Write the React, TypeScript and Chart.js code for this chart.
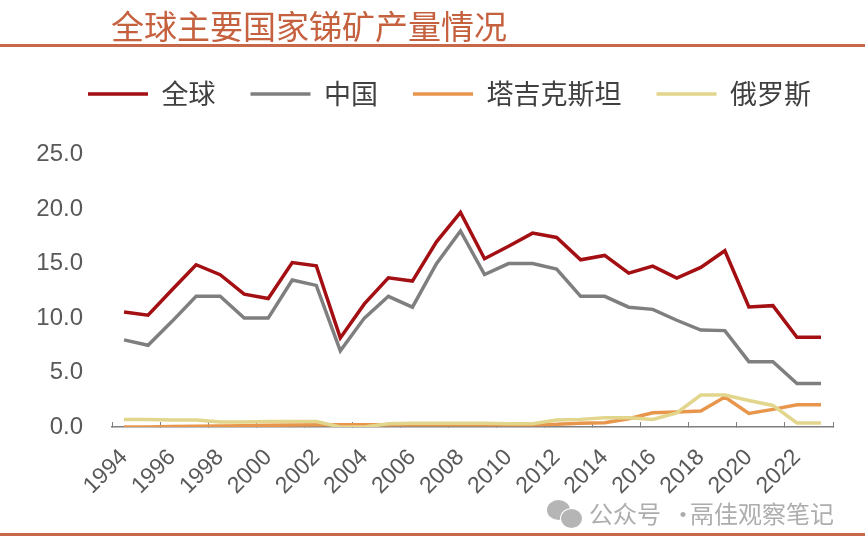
import React, { useEffect, useRef } from "react";
import { Chart, registerables } from "chart.js";

Chart.register(...registerables);

const years = [
  "1994", "1995", "1996", "1997", "1998", "1999", "2000", "2001", "2002", "2003",
  "2004", "2005", "2006", "2007", "2008", "2009", "2010", "2011", "2012", "2013",
  "2014", "2015", "2016", "2017", "2018", "2019", "2020", "2021", "2022", "2023",
];

const globalOutput = [
  10.56, 10.26, 12.6, 14.9, 13.98, 12.2, 11.8, 15.1, 14.8, 8.18,
  11.3, 13.7, 13.4, 17.0, 19.7, 15.45, 16.6, 17.8, 17.4, 15.35,
  15.75, 14.13, 14.77, 13.67, 14.65, 16.18, 11.02, 11.14, 8.24, 8.24,
];

const chinaOutput = [
  8.0, 7.5, 9.7, 12.0, 12.0, 10.0, 10.0, 13.5, 13.0, 7.0,
  10.0, 12.0, 11.0, 15.0, 18.0, 14.0, 15.0, 15.0, 14.5, 12.0,
  12.0, 11.0, 10.8, 9.8, 8.9, 8.85, 6.0, 6.0, 4.0, 4.0,
];

const tajikOutput = [
  0.0, 0.0, 0.05, 0.08, 0.1, 0.12, 0.15, 0.18, 0.2, 0.2,
  0.2, 0.2, 0.2, 0.2, 0.2, 0.2, 0.2, 0.2, 0.25, 0.35,
  0.4, 0.76, 1.3, 1.37, 1.46, 2.75, 1.25, 1.62, 2.04, 2.04,
];

const russiaOutput = [
  0.7, 0.7, 0.65, 0.65, 0.45, 0.45, 0.5, 0.5, 0.5, 0.0,
  0.0, 0.3, 0.35, 0.35, 0.35, 0.35, 0.3, 0.3, 0.65, 0.7,
  0.85, 0.85, 0.7, 1.3, 2.93, 2.93, 2.44, 1.98, 0.37, 0.37,
];

const seriesNames = ["全球", "中国", "塔吉克斯坦", "俄罗斯"];
const seriesColors = ["#A30F12", "#7F7F7F", "#E8964B", "#E2D58C"];

const titleText = "全球主要国家锑矿产量情况";
const watermarkPrefix = "公众号";
const watermarkName = "鬲佳观察笔记";

const Y_MIN = 0;
const Y_MAX = 25;
const Y_STEP = 5;

const ACCENT = "#C8684A";
const TEXT = "#595959";

export default function App() {
  const canvasRef = useRef<HTMLCanvasElement>(null);

  useEffect(() => {
    if (!canvasRef.current) return;
    const seriesData = [globalOutput, chinaOutput, tajikOutput, russiaOutput];
    const chart = new Chart(canvasRef.current, {
      type: "line",
      data: {
        labels: years,
        datasets: seriesData.map((d, i) => ({
          label: seriesNames[i],
          data: d,
          yAxisID: "y",
          borderColor: seriesColors[i],
          backgroundColor: seriesColors[i],
          borderWidth: 3.5,
          pointRadius: 0,
          pointHoverRadius: 0,
          tension: 0,
          fill: false,
          order: seriesData.length - 1 - i,
        })),
      },
      options: {
        responsive: false,
        animation: false,
        layout: { padding: { top: 45.5, left: 34, right: 0, bottom: 0 } },
        plugins: {
          tooltip: { enabled: false },
          legend: {
            display: true,
            position: "top",
            align: "center",
            labels: {
              boxWidth: 60,
              boxHeight: 3.5,
              padding: 35,
              color: "#404040",
              font: { family: "'Noto Sans CJK SC', 'Liberation Sans', sans-serif", size: 27 },
              sort: (a: any, b: any) => a.datasetIndex - b.datasetIndex,
              generateLabels: (c: any) =>
                (Chart.defaults.plugins.legend.labels.generateLabels as any)(c).map((l: any) => ({
                  ...l,
                  lineWidth: 0,
                  strokeStyle: "rgba(0,0,0,0)",
                })),
            },
          },
          title: {
            display: true,
            text: "",
            position: "top",
            weight: 500,
            font: { size: 1 },
            padding: { top: 0, bottom: 36 },
          } as any,
        },
        scales: {
          x: {
            type: "category",
            offset: true,
            grid: {
              display: true,
              offset: true,
              drawOnChartArea: false,
              drawTicks: true,
              tickLength: -5,
              lineWidth: 1,
              color: (ctx: any) =>
                ctx.index === undefined || ctx.index % 2 === 0 ? "#7F7F7F" : "rgba(0,0,0,0)",
              tickColor: (ctx: any) =>
                ctx.index === undefined || ctx.index % 2 === 0 ? "#7F7F7F" : "rgba(0,0,0,0)",
            },
            border: { display: true, color: "#7F7F7F", width: 1.5 },
            ticks: {
              autoSkip: false,
              maxRotation: 45,
              minRotation: 45,
              padding: 22,
              color: TEXT,
              font: { family: "'Liberation Sans', Arial, sans-serif", size: 23 },
              callback: (_v: any, i: number) => (i % 2 === 0 ? years[i] : ""),
            },
            afterFit: (scale: any) => {
              scale.height = 121;
            },
          },
          y: {
            position: "left",
            min: Y_MIN,
            max: Y_MAX,
            grid: { display: false, drawTicks: false },
            border: { display: false },
            ticks: {
              stepSize: Y_STEP,
              padding: 29,
              color: TEXT,
              font: { family: "'Liberation Sans', Arial, sans-serif", size: 24 },
              callback: (v: any) => Number(v).toFixed(1),
            },
            afterFit: (scale: any) => {
              scale.width = 78;
            },
          },
          yRightSpace: {
            type: "linear",
            position: "right",
            display: true,
            min: Y_MIN,
            max: Y_MAX,
            grid: { display: false, drawTicks: false },
            border: { display: false },
            ticks: { display: false },
            afterFit: (scale: any) => {
              scale.width = 32;
            },
          },
        },
      } as any,
    });
    return () => chart.destroy();
  }, []);

  return (
    <div
      style={{
        position: "fixed",
        left: 0,
        top: 0,
        width: 865,
        height: 548,
        background: "#ffffff",
        overflow: "hidden",
      }}
    >
      <canvas
        ref={canvasRef}
        width={865}
        height={548}
        style={{ position: "absolute", left: 0, top: 0, width: 865, height: 548 }}
      />
      <div
        style={{
          position: "absolute",
          left: 111,
          top: 9,
          fontFamily: "'Noto Sans CJK SC', sans-serif",
          fontSize: 33,
          lineHeight: "33px",
          color: "#C5613F",
          whiteSpace: "nowrap",
        }}
      >
        {titleText}
      </div>
      <div style={{ position: "absolute", left: 0, top: 44, width: 865, height: 3, background: ACCENT }} />
      <div style={{ position: "absolute", left: 0, top: 533, width: 865, height: 3, background: ACCENT }} />
      <div
        style={{
          position: "absolute",
          left: 547,
          top: 500,
          width: 23,
          height: 20,
          borderRadius: "50%",
          background: "#B5B5B5",
        }}
      />
      <div
        style={{
          position: "absolute",
          left: 560,
          top: 508,
          width: 21,
          height: 19,
          borderRadius: "50%",
          background: "#B5B5B5",
          border: "1.5px solid #ffffff",
        }}
      />
      <div
        style={{
          position: "absolute",
          left: 589,
          top: 500,
          fontFamily: "'Noto Sans CJK SC', sans-serif",
          fontSize: 24,
          lineHeight: "26px",
          color: "#ADADAD",
          whiteSpace: "nowrap",
        }}
      >
        {watermarkPrefix}
      </div>
      <div
        style={{
          position: "absolute",
          left: 671,
          top: 500,
          fontFamily: "'Noto Sans CJK SC', sans-serif",
          fontSize: 24,
          lineHeight: "26px",
          color: "#ADADAD",
        }}
      >
        ·
      </div>
      <div
        style={{
          position: "absolute",
          left: 690,
          top: 500,
          fontFamily: "'Noto Sans CJK SC', sans-serif",
          fontSize: 24,
          lineHeight: "26px",
          color: "#ADADAD",
          whiteSpace: "nowrap",
        }}
      >
        {watermarkName}
      </div>
    </div>
  );
}
